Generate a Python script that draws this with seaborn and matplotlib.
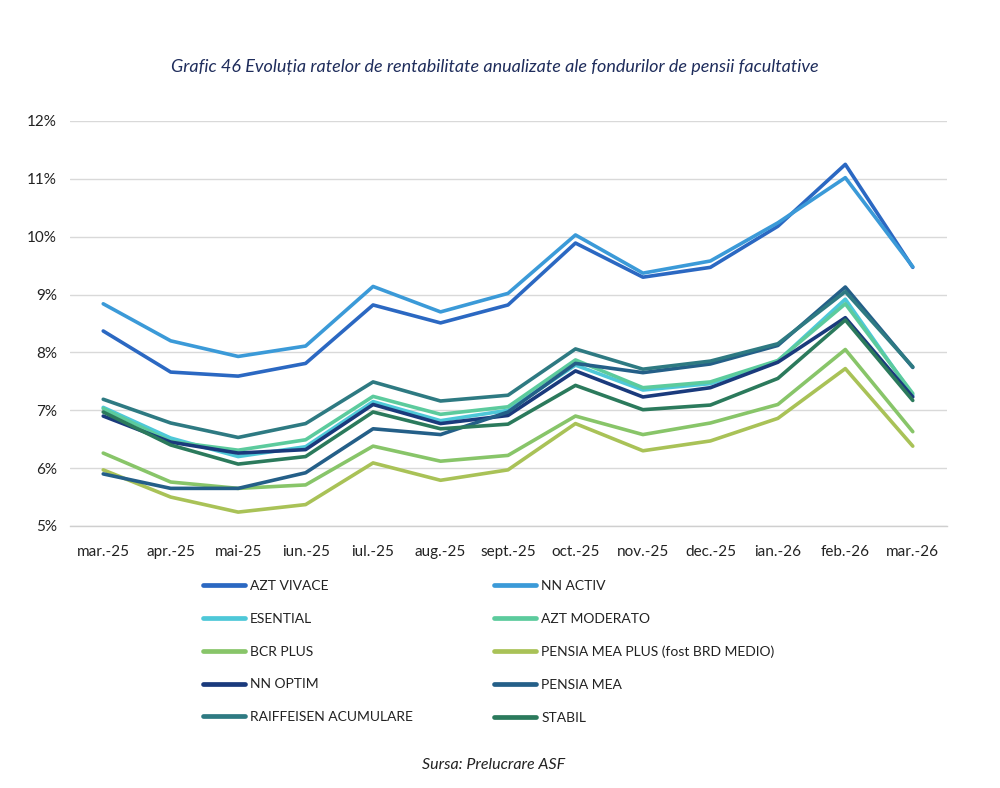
import numpy as np
import pandas as pd
import matplotlib
matplotlib.use("Agg")
import matplotlib.pyplot as plt
import seaborn as sns
from matplotlib.ticker import FuncFormatter
from matplotlib.lines import Line2D

months = ["mar.-25", "apr.-25", "mai-25", "iun.-25", "iul.-25", "aug.-25", "sept.-25",
          "oct.-25", "nov.-25", "dec.-25", "ian.-26", "feb.-26", "mar.-26"]

azt_vivace      = [8.37, 7.66, 7.59, 7.81, 8.82, 8.51, 8.82, 9.89, 9.30, 9.47, 10.18, 11.25, 9.47]
nn_activ        = [8.84, 8.20, 7.93, 8.11, 9.14, 8.70, 9.02, 10.03, 9.37, 9.58, 10.24, 11.02, 9.48]
esential        = [7.05, 6.52, 6.20, 6.37, 7.15, 6.82, 7.00, 7.78, 7.35, 7.46, 7.85, 8.92, 7.26]
azt_moderato    = [7.03, 6.46, 6.31, 6.49, 7.24, 6.93, 7.06, 7.87, 7.39, 7.49, 7.86, 8.84, 7.29]
bcr_plus        = [6.26, 5.76, 5.65, 5.71, 6.38, 6.12, 6.22, 6.90, 6.58, 6.78, 7.10, 8.05, 6.63]
pensia_mea_plus = [5.97, 5.50, 5.24, 5.37, 6.09, 5.79, 5.97, 6.77, 6.30, 6.47, 6.86, 7.72, 6.38]
nn_optim        = [6.90, 6.45, 6.26, 6.32, 7.10, 6.77, 6.91, 7.68, 7.23, 7.39, 7.83, 8.60, 7.23]
pensia_mea      = [5.90, 5.65, 5.65, 5.92, 6.68, 6.58, 6.97, 7.81, 7.65, 7.80, 8.12, 9.13, 7.74]
raiffeisen      = [7.19, 6.78, 6.53, 6.77, 7.49, 7.16, 7.26, 8.06, 7.71, 7.85, 8.15, 9.05, 7.75]
stabil          = [6.97, 6.40, 6.07, 6.20, 6.97, 6.68, 6.76, 7.43, 7.01, 7.09, 7.55, 8.56, 7.17]

series_names = ["AZT VIVACE", "NN ACTIV", "ESENTIAL", "AZT MODERATO", "BCR PLUS",
                "PENSIA MEA PLUS (fost BRD MEDIO)", "NN OPTIM", "PENSIA MEA",
                "RAIFFEISEN ACUMULARE", "STABIL"]
series_values = [azt_vivace, nn_activ, esential, azt_moderato, bcr_plus,
                 pensia_mea_plus, nn_optim, pensia_mea, raiffeisen, stabil]
colors = ["#2b68c2", "#3b9ad8", "#4ec8d8", "#5ccb9d", "#88c569",
          "#a9c257", "#1a3a7c", "#245f88", "#2e7a82", "#2b7a5c"]

rows = []
for name, vals in zip(series_names, series_values):
    for i, v in enumerate(vals):
        rows.append({"idx": i, "month": months[i], "fund": name, "value": v / 100})
df = pd.DataFrame(rows)

sns.set_theme(style="white")
plt.rcParams["font.family"] = ["Lato", "DejaVu Sans"]

fig = plt.figure(figsize=(10, 7.88), dpi=100)
ax = fig.add_axes([0.0695, 0.3325, 0.877, 0.514])

sns.lineplot(data=df, x="idx", y="value", hue="fund", hue_order=series_names,
             palette=dict(zip(series_names, colors)), linewidth=2.6, ax=ax,
             legend=False, sort=False)

ax.set_xlim(-0.5, len(months) - 0.5)
ax.set_ylim(0.05, 0.12)
ax.set_yticks(np.arange(0.05, 0.1201, 0.01))
ax.yaxis.set_major_formatter(FuncFormatter(lambda v, p: f"{round(v*100)}%"))
ax.set_xticks(range(len(months)))
ax.set_xticklabels(months)
ax.set_xticks(np.arange(-0.5, len(months)), minor=True)
ax.tick_params(axis="x", which="major", length=0, pad=14, labelsize=11, colors="#222222")
ax.tick_params(axis="x", which="minor", length=5, color="#cfcfcf", width=1)
ax.tick_params(axis="y", length=0, pad=9, labelsize=11, colors="#222222")
ax.set_xlabel("")
ax.set_ylabel("")
ax.grid(axis="y", color="#d9d9d9", linewidth=1)
ax.grid(axis="x", visible=False)
for s in ["left", "right", "top"]:
    ax.spines[s].set_visible(False)
ax.spines["bottom"].set_color("#cfcfcf")
ax.spines["bottom"].set_linewidth(1)

fig.text(0.4945, 0.915, "Grafic 46 Evoluția ratelor de rentabilitate anualizate ale fondurilor de pensii facultative",
         ha="center", va="center", style="italic", fontsize=13, color="#1f2d5c")
fig.text(0.494, 0.029, "Sursa: Prelucrare ASF", ha="center", va="center",
         style="italic", fontsize=11.5, color="#222222")

# legend, row-wise order across two columns
handles = {n: Line2D([0], [0], color=c, lw=3.4) for n, c in zip(series_names, colors)}
col1 = [series_names[i] for i in (0, 2, 4, 6, 8)]
col2 = [series_names[i] for i in (1, 3, 5, 7, 9)]
order = col1 + col2
leg = fig.legend([handles[n] for n in order], order, ncol=2, loc="upper left",
                 bbox_to_anchor=(0.203, 0.264), frameon=False, fontsize=10,
                 handlelength=3.0, handletextpad=0.36, labelspacing=1.5,
                 columnspacing=5.9, borderpad=0, borderaxespad=0)
for t in leg.get_texts():
    t.set_color("#222222")

fig.savefig("out.png", dpi=100)
